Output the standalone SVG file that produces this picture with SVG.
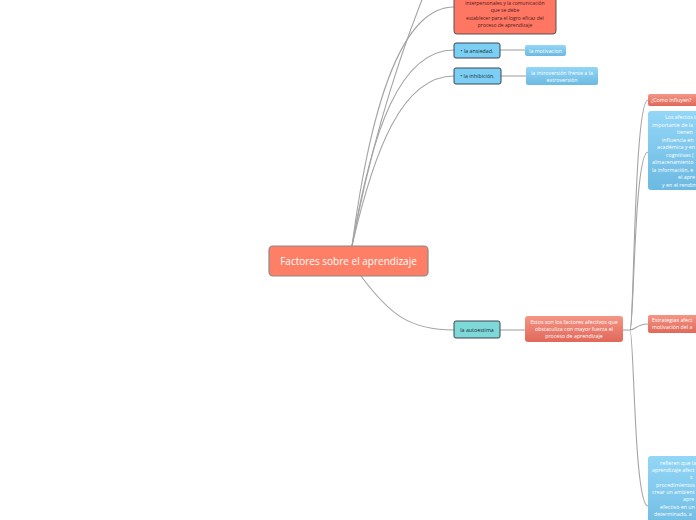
<svg xmlns="http://www.w3.org/2000/svg" width="696" height="520" viewBox="0 0 696 520">
<defs>
<linearGradient id="gb" x1="0" y1="0" x2="0" y2="1"><stop offset="0" stop-color="#93d6f6"/><stop offset="1" stop-color="#6cb9e2"/></linearGradient>
<linearGradient id="gr" x1="0" y1="0" x2="0" y2="1"><stop offset="0" stop-color="#f59585"/><stop offset="1" stop-color="#e0685a"/></linearGradient>
<style>
.c{fill:none;stroke:#a4a4a4;stroke-width:1.1}
.t{font-family:"Open Sans","Liberation Sans",sans-serif}
.s{font-size:5.3px;fill:#fff}
.d{font-size:5px;fill:#4a2018}
.k{font-size:5.3px;fill:#1c2b36}
</style>
</defs>
<rect width="696" height="520" fill="#fff"/>
<g id="connectors">
<path class="c" d="M352,246 C368,160 392,70 434,-30"/>
<path class="c" d="M352,246 C370,110 400,7 454,7"/>
<path class="c" d="M352,246 C372,130 400,50 454,50"/>
<path class="c" d="M352,246 C374,150 402,76 454,76"/>
<path class="c" d="M361,276 C390,315 410,330 454,330"/>
<path class="c" d="M500,50 H525"/>
<path class="c" d="M501,76 H526"/>
<path class="c" d="M500,330 H525"/>
<path class="c" d="M623,330 H630"/>
<path class="c" d="M630,330 C634,330 634,100 648,100"/>
<path class="c" d="M630,330 C634,330 634,152 648,152"/>
<path class="c" d="M630,330 C636,330 636,324 648,324"/>
<path class="c" d="M630,330 C634,330 634,506 648,506"/>
</g>
<g id="root">
<rect x="269" y="246" width="159" height="30" rx="4" fill="#ff7f66" stroke="#8a8a8a" stroke-width="1.2"/>
<text class="t" x="348.5" y="264.5" font-size="10" fill="#fff" text-anchor="middle">Factores sobre el aprendizaje</text>
</g>
<g id="n-comunicacion">
<rect x="454" y="-10" width="102" height="44" rx="3" fill="#ff7663" stroke="#555" stroke-width="1"/>
<g class="t d" text-anchor="middle">
<text x="505" y="5">interpersonales y la comunicación</text>
<text x="505" y="11.5">que se debe</text>
<text x="505" y="19.5">establecer para el logro eficaz del</text>
<text x="505" y="26.5">proceso de aprendizaje</text>
</g>
</g>
<g id="n-ansiedad">
<rect x="454" y="43" width="46" height="15" rx="2" fill="#7ccff4" stroke="#3b4650" stroke-width="1"/>
<text class="t k" x="477" y="52.5" text-anchor="middle">• la ansiedad.</text>
</g>
<g id="n-inhibicion">
<rect x="454" y="68" width="47" height="16" rx="2" fill="#7ccff4" stroke="#3b4650" stroke-width="1"/>
<text class="t k" x="477.5" y="78" text-anchor="middle">• la inhibición.</text>
</g>
<g id="n-motivacion">
<rect x="525" y="45" width="41" height="11" rx="2" fill="url(#gb)"/>
<text class="t s" x="545.5" y="52.5" text-anchor="middle">la motivacion</text>
</g>
<g id="n-introversion">
<rect x="526" y="67" width="72" height="18" rx="2" fill="url(#gb)"/>
<text class="t s" x="562" y="74.5" text-anchor="middle">la introversión frente a la</text>
<text class="t s" x="562" y="81.5" text-anchor="middle">extroversión</text>
</g>
<g id="n-autoestima">
<rect x="454" y="321" width="46" height="17" rx="2" fill="#7fd8d8" stroke="#3b4650" stroke-width="1"/>
<text class="t k" x="477" y="331.5" text-anchor="middle">la autoestima</text>
</g>
<g id="n-obstaculiza">
<rect x="525" y="316" width="98" height="26" rx="3" fill="url(#gr)"/>
<text class="t s" x="574" y="323.5" text-anchor="middle">Estos son los factores afectivos que</text>
<text class="t s" x="574" y="330.5" text-anchor="middle">obstaculiza con mayor fuerza el</text>
<text class="t s" x="574" y="337.5" text-anchor="middle">proceso de aprendizaje</text>
</g>
<g id="n-como">
<rect x="648" y="94" width="60" height="12" rx="2" fill="url(#gr)"/>
<text class="t s" x="651" y="102">¿Como influyen?</text>
</g>
<g id="n-afectos">
<rect x="648" y="111" width="70" height="79" rx="3" fill="url(#gb)"/>
<g class="t s">
<text x="665" y="119">Los afectos ti</text>
<text x="652" y="126.5">importante de la</text>
<text x="677" y="134">tienen</text>
<text x="662" y="141.5">influencia en</text>
<text x="657" y="149">académica y en</text>
<text x="666" y="156.5">cognitivas (</text>
<text x="652" y="164">almacenamiento</text>
<text x="652" y="171.5">la información, e</text>
<text x="678" y="179">el apre</text>
<text x="662" y="186.5">y en el rendim</text>
</g>
</g>
<g id="n-estrategias">
<rect x="648" y="315" width="60" height="18" rx="2" fill="url(#gr)"/>
<text class="t s" x="652" y="322">Estrategias afect</text>
<text class="t s" x="652" y="329">motivación del a</text>
</g>
<g id="n-refieren">
<rect x="648" y="456" width="70" height="80" rx="3" fill="url(#gb)"/>
<g class="t s">
<text x="660" y="465">refieren que la</text>
<text x="652" y="472">aprendizaje afect</text>
<text x="690" y="479">s</text>
<text x="656" y="486.5">procedimientos</text>
<text x="652" y="494">crear un ambient</text>
<text x="683" y="501">apre</text>
<text x="660" y="508.5">efectivo en un</text>
<text x="654" y="516">determinado, a</text>
</g>
</g>
</svg>
